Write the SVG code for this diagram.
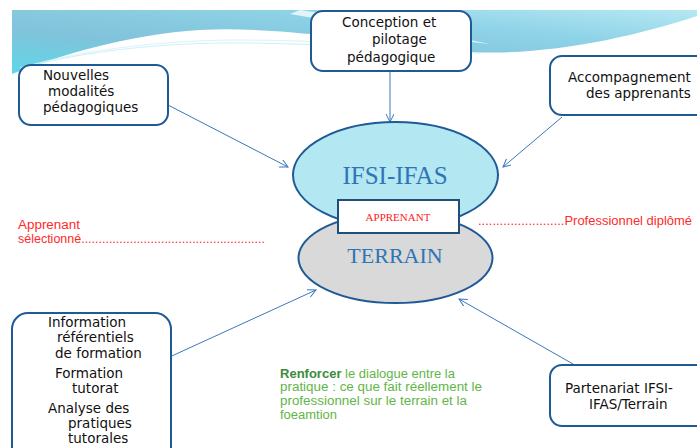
<svg xmlns="http://www.w3.org/2000/svg" width="697" height="448" viewBox="0 0 697 448">
  <defs>
    <linearGradient id="band" x1="0" y1="1" x2="1" y2="0">
      <stop offset="0" stop-color="#5fd7e8"/>
      <stop offset="0.35" stop-color="#80c3da"/>
      <stop offset="0.7" stop-color="#8fd3e8"/>
      <stop offset="1" stop-color="#b5e8f2"/>
    </linearGradient>
    <marker id="arr" markerWidth="10" markerHeight="10" refX="8" refY="4" orient="auto" markerUnits="userSpaceOnUse">
      <path d="M0,0 L8,4 L0,8" fill="none" stroke="#3b78b8" stroke-width="1"/>
    </marker>
    <style>
      .box { fill: #ffffff; stroke: #1f5a96; stroke-width: 2; }
      .lbl { font-family: "DejaVu Sans", "Liberation Sans", sans-serif; font-size: 13.5px; fill: #111111; }
      .conn { stroke: #3b78b8; stroke-width: 1; fill: none; marker-end: url(#arr); }
      .red { font-family: "Liberation Sans", Arial, sans-serif; font-size: 12px; fill: #ff2a2a; }
      .green { font-family: "Liberation Sans", Arial, sans-serif; font-size: 12px; fill: #62b548; }
      .ser { font-family: "Liberation Serif", "Times New Roman", serif; fill: #2e75b6; }
    </style>
  </defs>

  <rect width="697" height="448" fill="#ffffff"/>

  <!-- banner -->
  <path d="M12,10 H697 V16 C630,38 545,56 470,52 C420,49 380,42 330,36 C280,31 240,28 200,30 C130,34 60,55 12,74 Z" fill="url(#band)"/>
  <path d="M300,10 C370,20 430,32 490,44 C430,38 360,26 290,14 Z" fill="#ffffff" opacity="0.75"/>
  <path d="M20,68 C90,48 170,40 240,40 C320,40 400,46 470,50" fill="none" stroke="#d8f4f8" stroke-width="1"/>
  <path d="M30,66 C100,48 180,42 250,43 C330,44 410,50 480,53" fill="none" stroke="#bfeef5" stroke-width="0.8"/>

  <!-- connectors -->
  <g id="connectors">
    <line class="conn" x1="390" y1="71" x2="390" y2="122"/>
    <line class="conn" x1="168" y1="105" x2="288" y2="167"/>
    <line class="conn" x1="562" y1="117" x2="503" y2="167"/>
    <line class="conn" x1="163" y1="360" x2="316" y2="290"/>
    <line class="conn" x1="573" y1="364" x2="459" y2="299"/>
  </g>

  <!-- central ellipses -->
  <g id="ifsi-ifas">
    <ellipse cx="395.5" cy="175" rx="102.5" ry="53" fill="#b3e7f1" stroke="#1f5a96" stroke-width="2"/>
    <text class="ser" x="395" y="184" font-size="25" text-anchor="middle">IFSI-IFAS</text>
  </g>
  <g id="terrain">
    <ellipse cx="395.5" cy="258" rx="97" ry="45" fill="#d9d9d9" stroke="#1f5a96" stroke-width="2"/>
    <text class="ser" x="395" y="263" font-size="22" text-anchor="middle">TERRAIN</text>
  </g>
  <g id="apprenant">
    <rect x="338" y="200" width="121" height="33" fill="#ffffff" stroke="#1f4e79" stroke-width="2"/>
    <text x="398" y="221" font-family="Liberation Serif, 'Times New Roman', serif" font-size="11" fill="#ff2020" text-anchor="middle">APPRENANT</text>
  </g>

  <!-- outer nodes -->
  <g id="conception">
    <rect class="box" x="311" y="11" width="160" height="60" rx="12"/>
    <text class="lbl" x="342" y="27">Conception et</text>
    <text class="lbl" x="372" y="44">pilotage</text>
    <text class="lbl" x="347" y="62">pédagogique</text>
  </g>
  <g id="nouvelles">
    <rect class="box" x="19" y="65" width="149" height="60" rx="12"/>
    <text class="lbl" x="43" y="80">Nouvelles</text>
    <text class="lbl" x="48" y="96">modalités</text>
    <text class="lbl" x="43" y="112">pédagogiques</text>
  </g>
  <g id="accompagnement">
    <rect class="box" x="550" y="56" width="170" height="59" rx="12"/>
    <text class="lbl" x="568" y="82">Accompagnement</text>
    <text class="lbl" x="586" y="98">des apprenants</text>
  </g>
  <g id="information">
    <rect class="box" x="12" y="313" width="159" height="150" rx="16"/>
    <text class="lbl" x="48" y="327">Information</text>
    <text class="lbl" x="57" y="342">référentiels</text>
    <text class="lbl" x="55" y="358">de formation</text>
    <text class="lbl" x="55" y="378">Formation</text>
    <text class="lbl" x="72" y="393">tutorat</text>
    <text class="lbl" x="48" y="413">Analyse des</text>
    <text class="lbl" x="68" y="428">pratiques</text>
    <text class="lbl" x="68" y="443">tutorales</text>
  </g>
  <g id="partenariat">
    <rect class="box" x="550" y="365" width="170" height="61" rx="12"/>
    <text class="lbl" x="565" y="393">Partenariat IFSI-</text>
    <text class="lbl" x="589" y="409">IFAS/Terrain</text>
  </g>

  <!-- free texts -->
  <text class="red" x="18" y="229" textLength="62" lengthAdjust="spacingAndGlyphs">Apprenant</text>
  <text class="red" x="18" y="243" textLength="247" lengthAdjust="spacingAndGlyphs">sélectionné.....................................................</text>
  <text class="red" x="478" y="225" textLength="214" lengthAdjust="spacingAndGlyphs">........................Professionnel diplômé</text>

  <text class="green" x="280" y="378" textLength="175" lengthAdjust="spacingAndGlyphs"><tspan font-weight="bold" fill="#3d8b3d">Renforcer</tspan> le dialogue entre la</text>
  <text class="green" x="280" y="391" textLength="202" lengthAdjust="spacingAndGlyphs">pratique : ce que fait réellement le</text>
  <text class="green" x="280" y="405" textLength="187" lengthAdjust="spacingAndGlyphs">professionnel  sur le terrain et la</text>
  <text class="green" x="280" y="419" textLength="57" lengthAdjust="spacingAndGlyphs">foeamtion</text>
</svg>
